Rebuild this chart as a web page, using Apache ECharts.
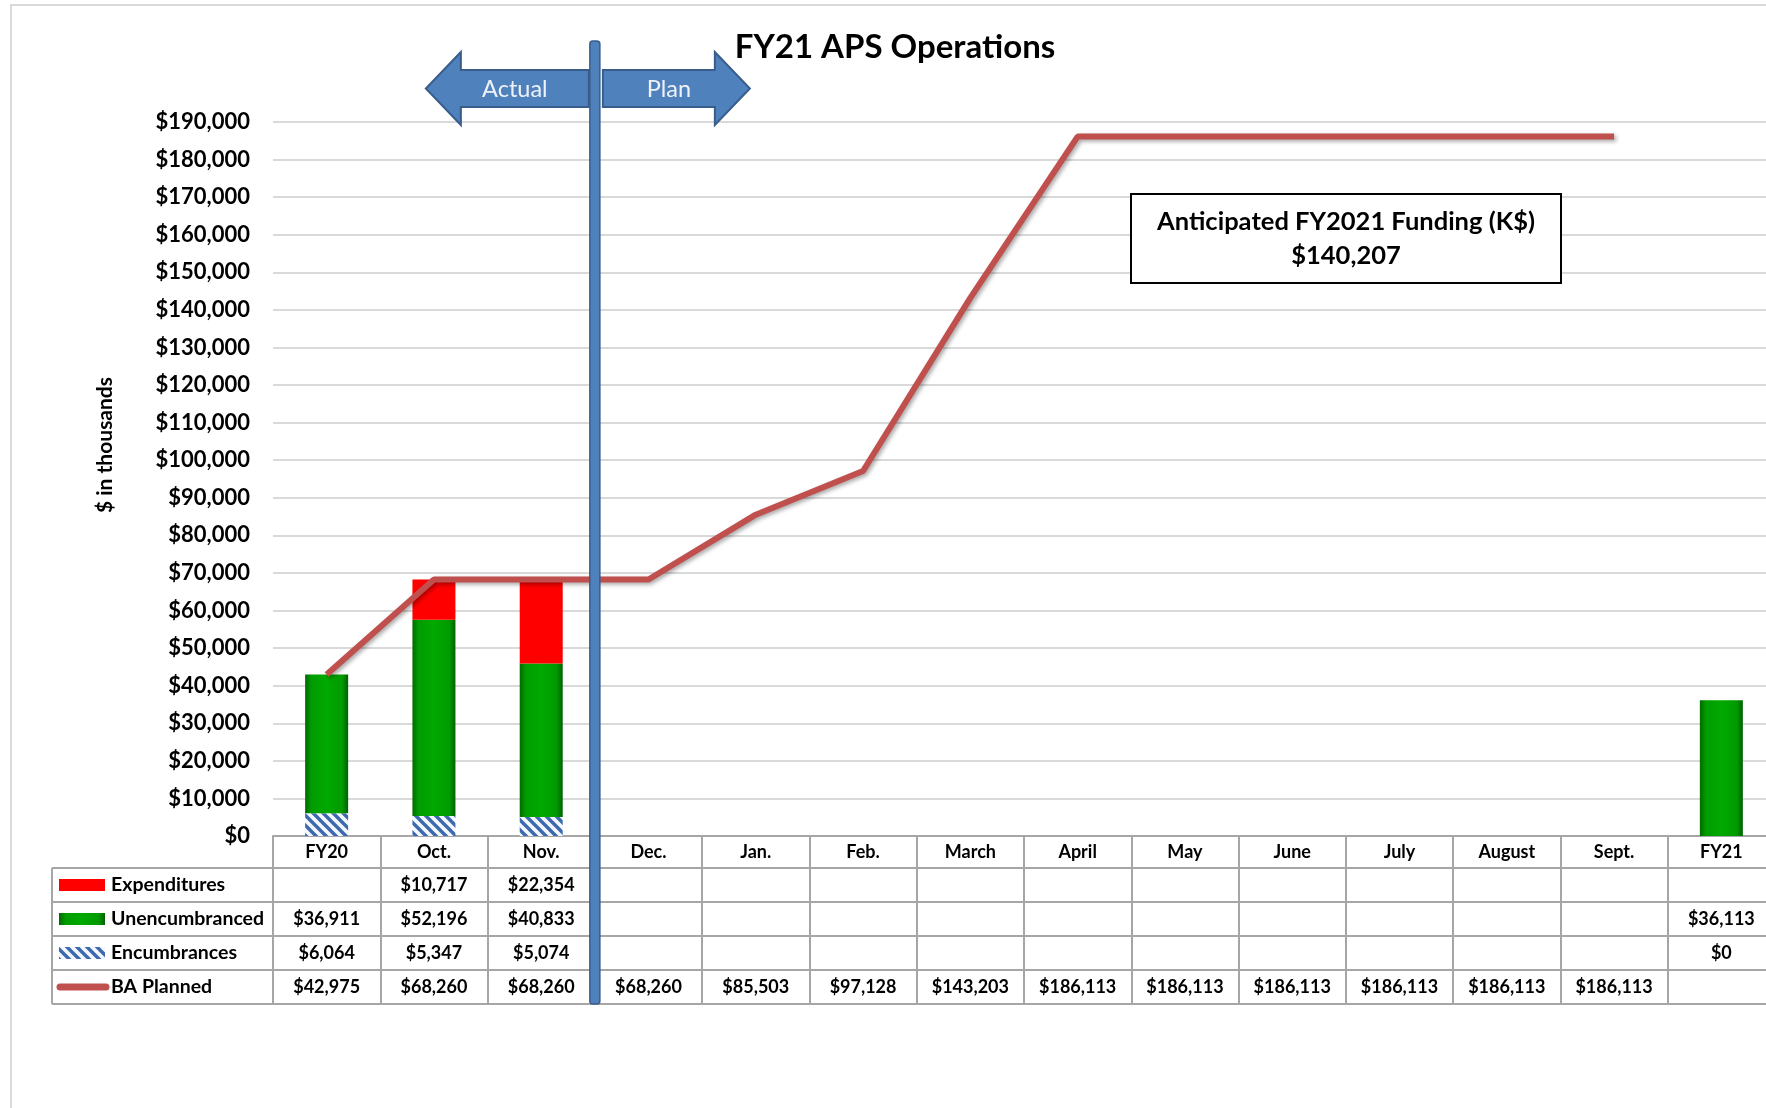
<!DOCTYPE html>
<html>
<head>
<meta charset="utf-8">
<title>FY21 APS Operations</title>
<script src="https://cdn.jsdelivr.net/npm/echarts@6/dist/echarts.min.js"></script>
<style>
    html, body { margin: 0; padding: 0; background: #fff; }
    #chart { width: 1766px; height: 1108px; }
</style>
</head>
<body>
<div id="chart"></div>
<script>
// data
var categories = ['FY20', 'Oct.', 'Nov.', 'Dec.', 'Jan.', 'Feb.', 'March', 'April', 'May', 'June', 'July', 'August', 'Sept.', 'FY21'];
var expenditures = [null, 10717, 22354, null, null, null, null, null, null, null, null, null, null, null];
var unencumbranced = [36911, 52196, 40833, null, null, null, null, null, null, null, null, null, null, 36113];
var encumbrances = [6064, 5347, 5074, null, null, null, null, null, null, null, null, null, null, 0];
var baPlanned = [42975, 68260, 68260, 68260, 85503, 97128, 143203, 186113, 186113, 186113, 186113, 186113, 186113, null];
var rowNames = ['Expenditures', 'Unencumbranced', 'Encumbrances', 'BA Planned'];
var fundingText = ['Anticipated FY2021 Funding (K$)', '$140,207'];

var FONT = 'Lato';
var GRID = { left: 273, top: 122, width: 1502, height: 714 };
var HEAD_H = 32, ROW_H = 34;
var BORDER = '#a6a6a6';

window.onload = function(){
    drawChart();
}

function money(v){
    return '$' + v.toLocaleString('en-US');
}

function cell(v){
    return v == null ? ' ' : money(v);
}

// blue/white diagonal hatch
function hatchCanvas(){
    var c = document.createElement('canvas');
    c.width = 10; c.height = 10;
    var ctx = c.getContext('2d');
    ctx.fillStyle = '#f4f8ff';
    ctx.fillRect(0, 0, 10, 10);
    ctx.strokeStyle = '#3d6aae';
    ctx.lineWidth = 3.4;
    ctx.beginPath();
    ctx.moveTo(-2, -2); ctx.lineTo(12, 12);
    ctx.moveTo(-2, 8); ctx.lineTo(2, 12);
    ctx.moveTo(8, -2); ctx.lineTo(12, 2);
    ctx.stroke();
    return c;
}

function greenFill(){
    return new echarts.graphic.LinearGradient(0, 0, 1, 0, [
        { offset: 0, color: '#006a00' },
        { offset: 0.14, color: '#009c00' },
        { offset: 0.5, color: '#00a900' },
        { offset: 0.86, color: '#009a00' },
        { offset: 1, color: '#006000' }
    ]);
}

function txt(text, x, y, size, weight, color, align){
    return {
        type: 'text',
        z: 100,
        style: {
            text: text, x: x, y: y,
            font: (weight || 'bold') + ' ' + size + 'px ' + FONT,
            fill: color || '#000',
            align: align || 'center', verticalAlign: 'middle',
            textAlign: align || 'center', textVerticalAlign: 'middle'
        }
    };
}

function drawChart(){
    var myChart = echarts.init(document.getElementById('chart'));
    var hatch = { image: hatchCanvas(), repeat: 'repeat' };

    var option = {
        animation: false,
        backgroundColor: '#fff',
        grid: {
            left: GRID.left, top: GRID.top, width: GRID.width, height: GRID.height,
            containLabel: false,
            outerBoundsMode: 'none'
        },
        xAxis: {
            type: 'category',
            data: categories,
            axisLine: { show: true, lineStyle: { color: BORDER, width: 2 } },
            axisTick: { show: true, interval: 0, length: HEAD_H + ROW_H * 4, lineStyle: { color: BORDER, width: 2 } },
            axisLabel: {
                interval: 0,
                margin: 0,
                formatter: function(value, idx){
                    return '{h|' + value + '}\n{v|' + cell(expenditures[idx]) + '}\n{v|' + cell(unencumbranced[idx]) +
                        '}\n{v|' + cell(encumbrances[idx]) + '}\n{v|' + cell(baPlanned[idx]) + '}';
                },
                rich: {
                    h: { fontFamily: FONT, fontSize: 18, fontWeight: 'bold', color: '#000', lineHeight: HEAD_H },
                    v: { fontFamily: FONT, fontSize: 18, fontWeight: 'bold', color: '#000', lineHeight: ROW_H }
                }
            }
        },
        yAxis: {
            type: 'value',
            min: 0,
            max: 190000,
            interval: 10000,
            axisLine: { show: false },
            axisTick: { show: false },
            axisLabel: {
                margin: 23,
                fontFamily: FONT, fontSize: 22, fontWeight: 'bold', color: '#000',
                formatter: function(v){ return money(v); }
            },
            splitLine: { lineStyle: { color: '#d9d9d9', width: 2 } }
        },
        series: [
            {
                name: 'Encumbrances', type: 'bar', stack: 'total', barWidth: 43,
                data: encumbrances,
                itemStyle: { color: hatch }
            },
            {
                name: 'Unencumbranced', type: 'bar', stack: 'total', barWidth: 43,
                data: unencumbranced,
                itemStyle: { color: greenFill() }
            },
            {
                name: 'Expenditures', type: 'bar', stack: 'total', barWidth: 43,
                data: expenditures,
                itemStyle: { color: '#ff0000' }
            },
            {
                name: 'BA Planned', type: 'line', z: 5,
                data: baPlanned,
                symbol: 'none',
                lineStyle: {
                    color: '#c0504d', width: 6,
                    shadowColor: 'rgba(0,0,0,0.35)', shadowBlur: 4, shadowOffsetX: 2, shadowOffsetY: 2
                }
            }
        ]
    };
    myChart.setOption(option);

    // decorations: table lines, legend keys, divider, arrows, text box
    var bottom = GRID.top + GRID.height;
    var x0 = myChart.convertToPixel({ xAxisIndex: 0 }, 'Nov.');
    var x1 = myChart.convertToPixel({ xAxisIndex: 0 }, 'Dec.');
    var dx = (x0 + x1) / 2;
    var tableLeft = 52;
    var tableBottom = bottom + HEAD_H + ROW_H * 4;

    var g = [];
    g.push({ type: 'rect', z: 0, shape: { x: 11, y: 5, width: 1800, height: 1200 }, style: { fill: null, stroke: '#d9d9d9', lineWidth: 2 } });
    for (var i = 0; i <= 4; i++) {
        var yy = bottom + HEAD_H + ROW_H * i;
        g.push({ type: 'line', z: 90, shape: { x1: tableLeft, y1: yy, x2: 1800, y2: yy }, style: { stroke: BORDER, lineWidth: 2 } });
    }
    g.push({ type: 'line', z: 90, shape: { x1: tableLeft, y1: bottom + HEAD_H, x2: tableLeft, y2: tableBottom }, style: { stroke: BORDER, lineWidth: 2 } });

    // legend keys inside the table
    var keyFills = ['#ff0000', greenFill(), hatch];
    for (var r = 0; r < 4; r++) {
        var cy = bottom + HEAD_H + ROW_H * r + ROW_H / 2;
        if (r < 3) {
            g.push({ type: 'rect', z: 95, shape: { x: 59, y: cy - 6, width: 46, height: 12 }, style: { fill: keyFills[r] } });
        } else {
            g.push({ type: 'line', z: 95, shape: { x1: 60, y1: cy, x2: 106, y2: cy }, style: { stroke: '#c0504d', lineWidth: 7, lineCap: 'round' } });
        }
        g.push(txt(rowNames[r], 111, cy, 19.5, 'bold', '#000', 'left'));
    }

    // actual / plan divider and arrows
    g.push({ type: 'polygon', z: 98, shape: { points: [[dx - 6, 70], [dx - 134, 70], [dx - 134, 52], [dx - 169, 88.5], [dx - 134, 125], [dx - 134, 107], [dx - 6, 107]] },
        style: { fill: '#4f81bd', stroke: '#385d8a', lineWidth: 2 } });
    g.push({ type: 'polygon', z: 98, shape: { points: [[dx + 8, 70], [dx + 120, 70], [dx + 120, 52], [dx + 155, 88.5], [dx + 120, 125], [dx + 120, 107], [dx + 8, 107]] },
        style: { fill: '#4f81bd', stroke: '#385d8a', lineWidth: 2 } });
    g.push(txt('Actual', dx - 80, 89, 23.5, 'normal', '#eef2f8'));
    g.push(txt('Plan', dx + 74, 89, 23.5, 'normal', '#eef2f8'));
    g.push({ type: 'rect', z: 99, shape: { x: dx - 5, y: 41, width: 10, height: tableBottom - 41, r: 3 },
        style: { fill: '#4f81bd', stroke: '#385d8a', lineWidth: 1.5 } });

    // title, axis name, funding box
    g.push(txt('FY21 APS Operations', 895, 47, 33, 'bold', '#000'));
    var yName = txt('$ in thousands', 0, 0, 21, 'bold', '#000');
    yName.x = 105; yName.y = 445; yName.rotation = Math.PI / 2;
    g.push(yName);
    g.push({ type: 'rect', z: 96, shape: { x: 1131, y: 194, width: 430, height: 89 }, style: { fill: '#fff', stroke: '#000', lineWidth: 2 } });
    g.push(txt(fundingText[0], 1346, 222, 25.5, 'bold', '#000'));
    g.push(txt(fundingText[1], 1346, 256, 25.5, 'bold', '#000'));

    myChart.setOption({ graphic: g });
}
</script>
</body>
</html>
